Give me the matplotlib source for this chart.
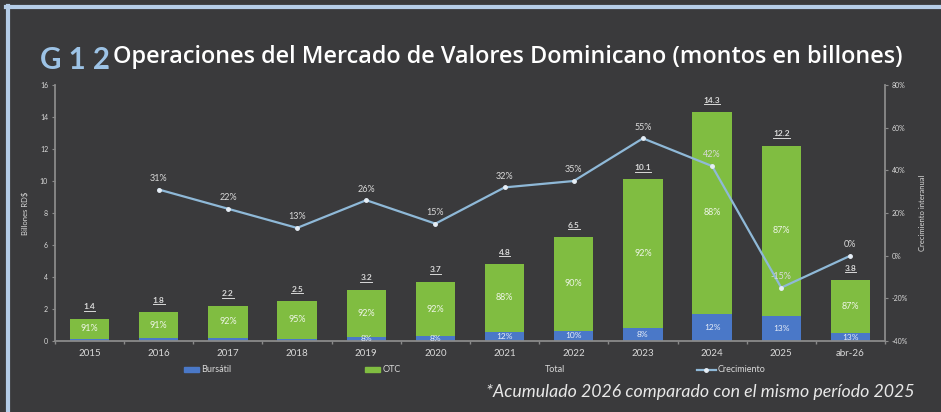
import matplotlib
matplotlib.use('Agg')
import matplotlib.pyplot as plt
from matplotlib.patches import Patch
from matplotlib.lines import Line2D
from matplotlib.ticker import FuncFormatter, MultipleLocator
import numpy as np

categories = ['2015', '2016', '2017', '2018', '2019', '2020', '2021', '2022',
              '2023', '2024', '2025', 'abr-26']
totals = [1.4, 1.8, 2.2, 2.5, 3.2, 3.7, 4.8, 6.5, 10.1, 14.3, 12.2, 3.8]
otc_pct = [91, 91, 92, 95, 92, 92, 88, 90, 92, 88, 87, 87]
bursatil_pct = [9, 9, 8, 5, 8, 8, 12, 10, 8, 12, 13, 13]
growth_pct = [None, 31, 22, 13, 26, 15, 32, 35, 55, 42, -15, 0]

title_tag = 'G 1 2'
title_text = 'Operaciones del Mercado de Valores Dominicano (montos en billones)'
footnote = '*Acumulado 2026 comparado con el mismo período 2025'

BG = '#3a3a3c'
GREEN = '#80bd41'
BLUE = '#4a78c8'
LINE = '#8fb9d8'
FRAME = '#b5cde8'
TXT = '#d9d9d9'
AXC = '#8a8a8a'
FONT = 'Lato'

W, H = 941, 412
fig = plt.figure(figsize=(W / 100, H / 100), dpi=100, facecolor=BG)

# frame
fig.add_artist(Line2D([6 / W, 1], [1 - 7 / H, 1 - 7 / H], color=FRAME, lw=3, transform=fig.transFigure))
fig.add_artist(Line2D([8 / W, 8 / W], [0, 1 - 6 / H], color=FRAME, lw=3, transform=fig.transFigure))

ax = fig.add_axes([55 / W, 1 - 341 / H, 830 / W, 256 / H])
ax.set_facecolor(BG)
x = np.arange(len(categories))
tot = np.array(totals)
burs = tot * np.array(bursatil_pct) / 100.0
otc = tot - burs

bw = 0.57
ax.bar(x, burs, bw, color=BLUE, zorder=2)
ax.bar(x, otc, bw, bottom=burs, color=GREEN, zorder=2)

ax.set_xlim(-0.5, len(categories) - 0.5)
ax.set_ylim(0, 16)
ax.yaxis.set_major_locator(MultipleLocator(2))
ax.set_xticks(x)
ax.set_xticklabels(categories, fontsize=7, color=TXT, family=FONT)
ax.set_xticks(np.arange(len(categories) + 1) - 0.5, minor=True)
ax.tick_params(axis='x', which='major', length=0, pad=6)
ax.tick_params(axis='x', which='minor', length=2.5, color=AXC, width=1)
ax.tick_params(axis='y', length=2, color=AXC, labelsize=5, labelcolor=TXT, pad=3)
for lab in ax.get_yticklabels():
    lab.set_family(FONT)
for s in ['top', 'right']:
    ax.spines[s].set_visible(False)
for s in ['left', 'bottom']:
    ax.spines[s].set_color(AXC)
    ax.spines[s].set_linewidth(1.3)
ax.set_ylabel('Billones RD$', fontsize=5.5, color=TXT, family=FONT, labelpad=8)

total_texts = []
for i in range(len(categories)):
    t = ax.annotate(f'{totals[i]:.1f}', (x[i], tot[i]), xytext=(0, 8.5), textcoords='offset points',
                    ha='center', va='center', fontsize=6, fontweight='bold', color=TXT, family=FONT, zorder=4)
    total_texts.append(t)
    ax.text(x[i], burs[i] + otc[i] / 2, f'{otc_pct[i]}%', ha='center', va='center',
            fontsize=6.5, color='#eef5e6', family=FONT, zorder=4)
    if burs[i] >= 0.2:
        ax.text(x[i], burs[i] / 2, f'{bursatil_pct[i]}%', ha='center', va='center',
                fontsize=6, color='#e8eef8', family=FONT, zorder=4)

ax2 = ax.twinx()
ax2.set_ylim(-40, 80)
ax2.yaxis.set_major_locator(MultipleLocator(20))
ax2.yaxis.set_major_formatter(FuncFormatter(lambda v, p: f'{v:.0f}%'))
ax2.tick_params(axis='y', length=2, color=AXC, labelsize=5, labelcolor=TXT, pad=3)
for lab in ax2.get_yticklabels():
    lab.set_family(FONT)
for s in ['top', 'left', 'bottom']:
    ax2.spines[s].set_visible(False)
ax2.spines['right'].set_color(AXC)
ax2.spines['right'].set_linewidth(1.3)
ax2.set_ylabel('Crecimiento interanual', fontsize=5.5, color=TXT, family=FONT, labelpad=8)

gx = [x[i] for i in range(len(categories)) if growth_pct[i] is not None]
gy = [growth_pct[i] for i in range(len(categories)) if growth_pct[i] is not None]
ax2.plot(gx, gy, color=LINE, lw=1.6, marker='o', ms=2.5, mfc='#e6eef6', mec='#e6eef6', zorder=5)
for xi, yi in zip(gx, gy):
    ax2.annotate(f'{yi}%', (xi, yi), xytext=(0, 8), textcoords='offset points', ha='center', va='center',
                 fontsize=6.5, color=TXT, family=FONT, zorder=6)

# legend entries
def add_leg(handle, label, xpix, hl):
    lg = fig.legend([handle], [label], loc='center left', bbox_to_anchor=(xpix / W, 1 - 370 / H),
                    frameon=False, borderpad=0, borderaxespad=0, handlelength=hl, handleheight=0.5,
                    handletextpad=0.2, prop={'family': FONT, 'size': 6.5})
    for t in lg.get_texts():
        t.set_color(TXT)

add_leg(Patch(color=BLUE), 'Bursátil', 184, 1.7)
add_leg(Patch(color=GREEN), 'OTC', 365, 1.7)
add_leg(Patch(color='none'), 'Total', 528, 1.7)
add_leg(Line2D([], [], color=LINE, lw=1.6, marker='o', ms=2.5, mfc='#e6eef6', mec='#e6eef6'), 'Crecimiento', 697, 2.1)

# titles
tag = fig.text(40 / W, 1 - 60 / H, title_tag, fontsize=20, fontweight='bold', color='#9dc3e6',
               family=FONT, ha='left', va='center')
tt = fig.text(113 / W, 1 - 57 / H, title_text, fontsize=14, fontweight='semibold', color='white',
              family='Open Sans', ha='left', va='center')
fn = fig.text(915 / W, 1 - 392 / H, footnote, fontsize=12, style='italic', color='#e8e8e8',
              family=FONT, ha='right', va='center')

fig.canvas.draw()
r = fig.canvas.get_renderer()

def fit(t, target):
    w = t.get_window_extent(r).width
    t.set_fontsize(t.get_fontsize() * target / w)

fit(tag, 70)
fit(tt, 802)
fit(fn, 428)
fig.canvas.draw()

inv = fig.transFigure.inverted()
for t in total_texts:
    bb = t.get_window_extent(r)
    (x0, y0), (x1, _) = inv.transform([(bb.x0, bb.y0 - 0.5), (bb.x1, bb.y0)])
    fig.add_artist(Line2D([x0, x1], [y0, y0], color=TXT, lw=0.7, transform=fig.transFigure))

fig.savefig('out.png', dpi=100, facecolor=BG)
